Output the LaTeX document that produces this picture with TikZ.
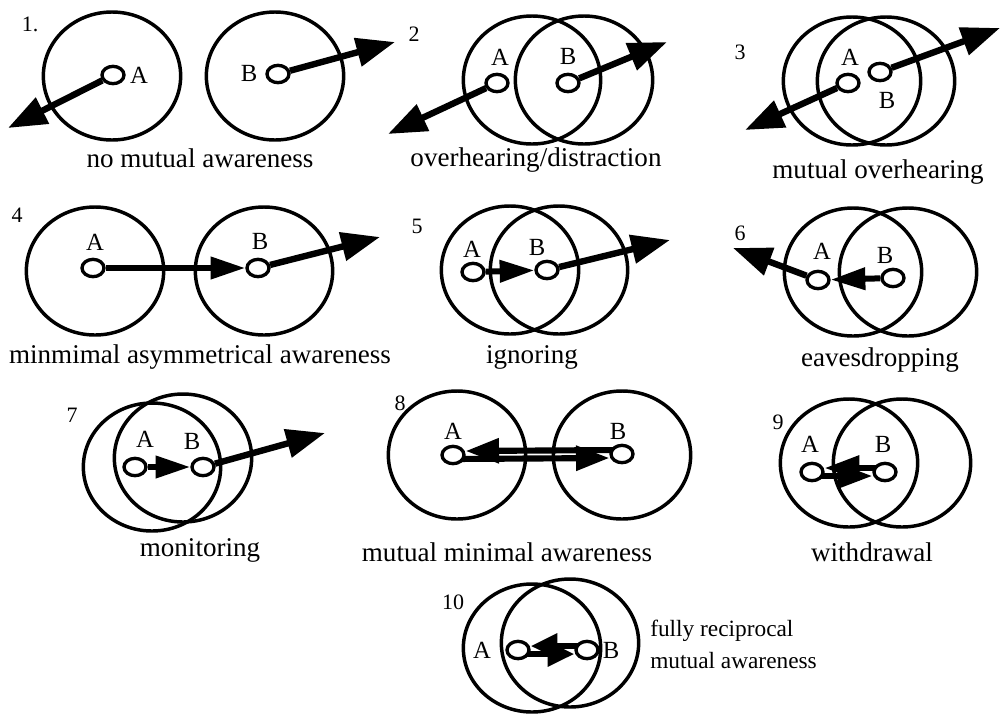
\documentclass[tikz,border=0pt]{standalone}
\usepackage{fontspec}
\setmainfont{Liberation Serif}
\usetikzlibrary{arrows.meta,shapes.geometric,backgrounds}
\tikzset{
  zoneline/.style={line width=2.6pt},
  dot/.style={ellipse, draw, line width=2.5pt, fill=white, minimum width=16.5pt, minimum height=13pt, inner sep=0pt},
  lbl/.style={inner sep=0pt, font=\fontsize{18.5}{20}\selectfont},
  num/.style={inner sep=0pt, font=\fontsize{16.5}{18}\selectfont},
  captext/.style={inner sep=0pt, font=\fontsize{20.3}{22}\selectfont},
  sidecap/.style={inner sep=0pt, align=left, anchor=west, font=\fontsize{17.5}{24}\selectfont},
  outarr/.style={line width=4.8pt, -{Triangle[length=29pt,width=21pt]}},
  linkarr/.style={line width=4.5pt, -{Triangle[length=26pt,width=16pt]}},
  pairarr/.style={line width=4.6pt, -{Triangle[length=#1,width=18pt]}},
  pairarr/.default=24pt
}
\newcommand\zone[1]{\draw[zoneline] (#1) ellipse [x radius=51.5pt, y radius=48pt];}
\begin{document}
\begin{tikzpicture}[x=0.75pt,y=-0.75pt]
\useasboundingbox (0,0) rectangle (1002,715);

% ---------- Panel 1
\node[num] (n1) at (30,24) {1.};
\zone{112,76}
\zone{275,76}
\node[dot] (a1) at (113,75) {};
\node[dot] (b1) at (278,74) {};
\node[lbl] (la1) at (139,75) {A};
\node[lbl] (lb1) at (249,73) {B};
\coordinate (t1a) at (8,128);
\coordinate (t1b) at (395,42);
\draw[outarr] (a1) -- (t1a);
\draw[outarr] (b1) -- (t1b);
\node[captext] (c1) at (200,158) {no mutual awareness};

% ---------- Panel 2
\node[num] (n2) at (414,34) {2};
\zone{532,80}
\zone{584,80}
\node[dot] (a2) at (497,83) {};
\node[dot] (b2) at (568,83) {};
\node[lbl] (la2) at (500,57) {A};
\node[lbl] (lb2) at (568,56) {B};
\coordinate (t2a) at (388,134);
\coordinate (t2b) at (667,42);
\draw[outarr] (a2) -- (t2a);
\draw[outarr] (b2) -- (t2b);
\node[captext] (c2) at (536,160) {overhearing/distraction};

% ---------- Panel 3
\node[num] (n3) at (740,52) {3};
\zone{852,81}
\zone{886,81}
\node[dot] (a3) at (848,83) {};
\node[dot] (b3) at (880,72) {};
\node[lbl] (la3) at (850,57) {A};
\node[lbl] (lb3) at (887,100) {B};
\coordinate (t3a) at (745,130);
\coordinate (t3b) at (1000,28);
\draw[outarr] (a3) -- (t3a);
\draw[outarr] (b3) -- (t3b);
\node[captext] (c3) at (878,172) {mutual overhearing};

% ---------- Panel 4
\node[num] (n4) at (17,215) {4};
\zone{95,271}
\zone{264,271}
\node[dot] (a4) at (93,268) {};
\node[dot] (b4) at (258,268) {};
\node[lbl] (la4) at (95,242) {A};
\node[lbl] (lb4) at (260,241) {B};
\coordinate (t4b) at (380,237);
\draw[linkarr] (a4) -- (b4);
\draw[outarr] (b4) -- (t4b);
\node[captext] (c4) at (200,357) {minmimal asymmetrical awareness};

% ---------- Panel 5
\node[num] (n5) at (417,226) {5};
\zone{510,270}
\zone{559,270}
\node[dot] (a5) at (473,272) {};
\node[dot] (b5) at (547,270) {};
\node[lbl] (la5) at (472,249) {A};
\node[lbl] (lb5) at (537,247) {B};
\coordinate (t5b) at (670,240);
\draw[linkarr] (a5) -- (b5);
\draw[outarr] (b5) -- (t5b);
\node[captext] (c5) at (532,357) {ignoring};

% ---------- Panel 6
\node[num] (n6) at (740,233) {6};
\zone{853,272}
\zone{908,272}
\node[dot] (a6) at (818,280) {};
\node[dot] (b6) at (893,278) {};
\node[lbl] (la6) at (822,251) {A};
\node[lbl] (lb6) at (885,255) {B};
\coordinate (t6a) at (733,248);
\draw[linkarr] (b6) -- (a6);
\draw[outarr] (a6) -- (t6a);
\node[captext] (c6) at (880,360) {eavesdropping};

% ---------- Panel 7
\node[num] (n7) at (72,415) {7};
\zone{152,467}
\zone{183,458}
\node[dot] (a7) at (135,467) {};
\node[dot] (b7) at (203,467) {};
\node[lbl] (la7) at (145,439) {A};
\node[lbl] (lb7) at (192,441) {B};
\coordinate (t7b) at (325,433);
\draw[linkarr] (a7) -- (b7);
\draw[outarr] (b7) -- (t7b);
\node[captext] (c7) at (200,550) {monitoring};

% ---------- Panel 8
\node[num] (n8) at (400,403) {8};
\zone{457,455}
\zone{622,455}
\node[dot] (a8) at (453,455) {};
\node[dot] (b8) at (622,454) {};
\node[lbl] (la8) at (453,431) {A};
\node[lbl] (lb8) at (618,431) {B};
\begin{pgfonlayer}{background}
\draw[pairarr=25pt] ([yshift=3pt]b8.center) -- ([yshift=3pt]a8.east);
\draw[pairarr=25pt] ([yshift=-3pt]a8.center) -- ([yshift=-3pt]b8.west);
\end{pgfonlayer}
\node[captext] (c8) at (507,552) {mutual minimal awareness};

% ---------- Panel 9
\node[num] (n9) at (778,422) {9};
\zone{849,463}
\zone{902,463}
\node[dot] (a9) at (812,472) {};
\node[dot] (b9) at (885,472) {};
\node[lbl] (la9) at (810,444) {A};
\node[lbl] (lb9) at (883,444) {B};
\begin{pgfonlayer}{background}
\draw[pairarr=26pt] ([yshift=3pt]b9.center) -- ([yshift=3pt]a9.east);
\draw[pairarr=26pt] ([yshift=-3pt]a9.center) -- ([yshift=-3pt]b9.west);
\end{pgfonlayer}
\node[captext] (c9) at (872,552) {withdrawal};

% ---------- Panel 10
\node[num] (n10) at (453,602) {10};
\zone{532,648}
\zone{570,643}
\node[dot] (a10) at (518,650) {};
\node[dot] (b10) at (587,650) {};
\node[lbl] (la10) at (482,650) {A};
\node[lbl] (lb10) at (611,650) {B};
\begin{pgfonlayer}{background}
\draw[pairarr=20pt] ([yshift=3pt]b10.center) -- ([yshift=3pt]a10.east);
\draw[pairarr=20pt] ([yshift=-3pt]a10.center) -- ([yshift=-3pt]b10.west);
\end{pgfonlayer}
\node[sidecap] (c10) at (650,644) {fully reciprocal\\mutual awareness};
\end{tikzpicture}
\end{document}
